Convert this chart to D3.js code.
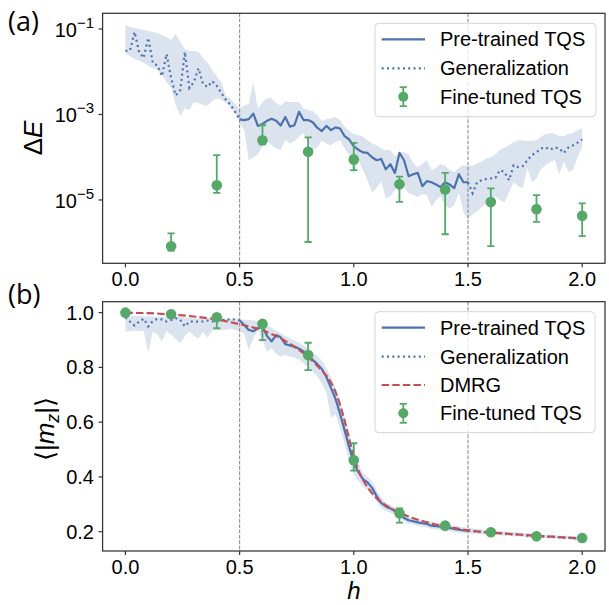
<!DOCTYPE html>
<html><head><meta charset="utf-8">
<script src="https://cdn.jsdelivr.net/npm/d3@7"></script>
<style>
body{margin:0;background:#fff}
text{font-family:"Liberation Sans",Arial,sans-serif;fill:#000}
</style>
</head><body>
<svg id="c" width="609" height="605"></svg>
<script>
// ---------- DATA ----------
const hGrid = [0,0.02,0.04,0.06,0.08,0.1,0.12,0.14,0.16,0.18,
0.2,0.22,0.24,0.26,0.28,0.3,0.32,0.34,0.36,0.38,
0.4,0.42,0.44,0.46,0.48,0.5,0.52,0.54,0.56,0.58,
0.6,0.62,0.64,0.66,0.68,0.7,0.72,0.74,0.76,0.78,
0.8,0.82,0.84,0.86,0.88,0.9,0.92,0.94,0.96,0.98,
1.0,1.02,1.04,1.06,1.08,1.1,1.12,1.14,1.16,1.18,
1.2,1.22,1.24,1.26,1.28,1.3,1.32,1.34,1.36,1.38,
1.4,1.42,1.44,1.46,1.48,1.5,1.52,1.54,1.56,1.58,
1.6,1.62,1.64,1.66,1.68,1.7,1.72,1.74,1.76,1.78,
1.8,1.82,1.84,1.86,1.88,1.9,1.92,1.94,1.96,1.98,2.0];

// (a) Delta E of pre-trained TQS (mean) and its spread
const dEMean = [3.1e-2,3.1e-2,8.5e-2,2.9e-2,2.1e-2,6.2e-2,1.6e-2,1.4e-2,7.9e-3,2.6e-2,
7.1e-3,2.8e-3,3.7e-3,2.9e-2,4.2e-3,5.8e-3,1.2e-2,5.1e-3,4.4e-3,6.0e-3,
4.7e-3,3.2e-3,2.2e-3,1.7e-3,1.15e-3,7.7e-4,7.4e-4,7.8e-4,1.05e-3,5.4e-4,
6.0e-4,7.1e-4,7.9e-4,7.1e-4,5.5e-4,8.7e-4,5.2e-4,5.6e-4,1.15e-3,7.4e-4,
7.4e-4,6.6e-4,4.9e-4,4.1e-4,5.4e-4,4.3e-4,5.0e-4,4.7e-4,3.1e-4,2.6e-4,
1.8e-4,1.5e-4,1.3e-4,1.26e-4,1.0e-4,8.5e-5,9.1e-5,5.2e-5,6.9e-5,4.3e-5,
1.26e-4,8.5e-5,3.6e-5,4.0e-5,4.3e-5,2.1e-5,2.75e-5,2.6e-5,2.3e-5,2.0e-5,
2.6e-5,2.3e-5,1.9e-5,4.0e-5,2.6e-5,2.6e-5,1.45e-5,2.6e-5,2.9e-5,3.1e-5,
3.2e-5,3.3e-5,5.0e-5,4.5e-5,2.9e-5,6.5e-5,5.9e-5,6.2e-5,8.5e-5,1.12e-4,
1.3e-4,1.6e-4,1.7e-4,1.5e-4,1.7e-4,1.6e-4,1.26e-4,1.7e-4,1.9e-4,2.2e-4,2.6e-4];
const dEUpper = [1.24e-1,1.11e-1,1.05e-1,1.0e-1,9.5e-2,9.0e-2,8.5e-2,8.1e-2,7.2e-2,6.5e-2,
5.5e-2,7.6e-2,5.0e-2,3.4e-2,3.05e-2,3.05e-2,2.9e-2,2.1e-2,1.6e-2,1.1e-2,
7.9e-3,5.7e-3,2.8e-3,2.3e-3,1.75e-3,1.4e-3,1.6e-3,1.75e-3,5.7e-3,1.4e-3,
1.95e-3,2.4e-3,2.4e-3,1.85e-3,1.6e-3,2.06e-3,1.95e-3,1.95e-3,1.95e-3,1.4e-3,
1.27e-3,1.2e-3,9.7e-4,7.0e-4,7.8e-4,8.2e-4,8.7e-4,7.4e-4,5.1e-4,4.1e-4,
3.5e-4,3.3e-4,3.0e-4,2.5e-4,2.1e-4,1.9e-4,1.6e-4,1.47e-4,1.47e-4,1.06e-4,
1.3e-4,1.3e-4,1.18e-4,7.3e-5,5.9e-5,6.9e-5,8.6e-5,5.0e-5,5.6e-5,6.9e-5,
6.2e-5,5.0e-5,4.5e-5,5.6e-5,6.5e-5,6.2e-5,6.2e-5,7.3e-5,7.7e-5,9.5e-5,
1.0e-4,1.18e-4,1.47e-4,1.7e-4,1.9e-4,2.26e-4,2.5e-4,2.5e-4,2.4e-4,2.4e-4,
2.5e-4,3.0e-4,3.5e-4,3.7e-4,3.5e-4,3.1e-4,3.1e-4,3.5e-4,3.7e-4,4.3e-4,4.8e-4];
const dELower = [2.7e-2,2.3e-2,2.0e-2,1.8e-2,1.6e-2,1.36e-2,1.22e-2,1.1e-2,8.4e-3,5.7e-3,
4.15e-3,1.66e-3,9.2e-4,1.4e-3,1.27e-3,1.95e-3,1.85e-3,1.66e-3,1.6e-3,2.06e-3,
2.4e-3,2.2e-3,1.85e-3,1.5e-3,1.08e-3,6.5e-4,4.3e-4,8.6e-5,1.0e-4,1.18e-4,
1.8e-4,2.4e-4,1.9e-4,1.6e-4,1.47e-4,2.65e-4,2.1e-4,2.4e-4,3.0e-4,3.7e-4,
2.26e-4,1.47e-4,1.7e-4,2.5e-4,2.1e-4,1.9e-4,2.26e-4,2.5e-4,1.6e-4,1.12e-4,
3.8e-5,8.6e-5,5.0e-5,2.9e-5,1.5e-5,1.9e-5,2.75e-5,1.1e-5,1.23e-5,1.7e-5,
2.9e-5,2.1e-5,1.44e-5,1.3e-5,1.16e-5,1.37e-5,1.3e-5,6.8e-6,9.9e-6,1.23e-5,
7.2e-6,6.4e-6,7.6e-6,1.5e-5,5.2e-6,3.55e-6,4.6e-6,5.5e-6,6.8e-6,8.0e-6,
9.9e-6,1.23e-5,9.9e-6,8.9e-6,1.5e-5,2.6e-5,2.1e-5,1.9e-5,5.6e-5,2.6e-5,
3.2e-5,5.3e-5,6.5e-5,7.7e-5,8.6e-5,4.0e-5,7.7e-5,4.5e-5,5.0e-5,1.0e-4,1.7e-4];

// (a) fine-tuned TQS points with error bars
const ftTopH  = [0.2,0.4,0.6,0.8,1.0,1.2,1.4,1.6,1.8,2.0];
const ftTopE  = [8.3e-7,2.2e-5,2.5e-4,1.34e-4,8.9e-5,2.34e-5,1.76e-5,9.0e-6,6.1e-6,4.25e-6];
const ftTopLo = [6.5e-7,1.47e-5,2.0e-4,1.04e-6,5.0e-5,9.0e-6,1.58e-6,8.3e-7,3.07e-6,1.42e-6];
const ftTopHi = [1.66e-6,1.12e-4,5.6e-4,2.9e-4,2.17e-4,3.5e-5,4.3e-5,1.86e-5,1.3e-5,8.3e-6];

// (b) <|m_z|> of pre-trained TQS (mean) and its spread
const mzMean = [0.983,0.967,0.953,0.967,0.978,0.950,0.970,0.977,0.975,0.968,
0.973,0.980,0.974,0.950,0.967,0.968,0.967,0.968,0.971,0.968,
0.970,0.972,0.974,0.976,0.975,0.972,0.955,0.937,0.932,0.943,
0.949,0.915,0.895,0.918,0.910,0.885,0.880,0.876,0.868,0.858,
0.842,0.828,0.812,0.794,0.765,0.725,0.685,0.630,0.570,0.508,
0.452,0.418,0.392,0.380,0.360,0.330,0.305,0.292,0.285,0.275,
0.265,0.250,0.242,0.238,0.234,0.231,0.228,0.222,0.220,0.218,
0.218,0.214,0.210,0.207,0.205,0.204,0.203,0.200,0.199,0.197,
0.196,0.195,0.195,0.193,0.191,0.190,0.190,0.188,0.186,0.186,
0.184,0.183,0.182,0.181,0.181,0.180,0.179,0.178,0.177,0.176,0.175];
const mzUpper = [0.990,0.989,0.988,0.988,0.987,0.986,0.986,0.985,0.985,0.984,
0.984,0.985,0.984,0.982,0.982,0.981,0.980,0.980,0.980,0.979,
0.979,0.979,0.978,0.978,0.977,0.976,0.974,0.973,0.972,0.968,
0.962,0.955,0.945,0.935,0.925,0.915,0.905,0.898,0.890,0.880,
0.868,0.855,0.842,0.824,0.798,0.765,0.725,0.675,0.620,0.558,
0.497,0.450,0.415,0.400,0.382,0.352,0.325,0.308,0.298,0.288,
0.278,0.263,0.255,0.250,0.246,0.244,0.240,0.236,0.233,0.232,
0.231,0.227,0.222,0.219,0.216,0.214,0.213,0.210,0.208,0.206,
0.205,0.204,0.203,0.201,0.199,0.198,0.197,0.196,0.194,0.193,
0.191,0.190,0.189,0.188,0.187,0.186,0.185,0.184,0.183,0.182,0.181];
const mzLower = [0.931,0.932,0.935,0.931,0.935,0.852,0.931,0.920,0.894,0.931,
0.920,0.905,0.888,0.915,0.931,0.915,0.906,0.931,0.908,0.935,
0.937,0.937,0.937,0.940,0.938,0.932,0.925,0.864,0.905,0.936,
0.900,0.858,0.870,0.850,0.839,0.845,0.840,0.835,0.828,0.815,
0.800,0.785,0.768,0.740,0.708,0.615,0.630,0.578,0.520,0.458,
0.410,0.385,0.365,0.352,0.337,0.310,0.287,0.276,0.270,0.262,
0.252,0.238,0.230,0.226,0.222,0.219,0.216,0.210,0.208,0.206,
0.206,0.203,0.199,0.196,0.195,0.194,0.193,0.191,0.190,0.189,
0.188,0.187,0.187,0.185,0.184,0.183,0.183,0.181,0.179,0.179,
0.178,0.177,0.176,0.175,0.175,0.174,0.173,0.172,0.171,0.170,0.169];

// (b) DMRG reference
const dmrgH = [0,0.05,0.1,0.15,0.2,0.25,0.3,0.35,0.4,0.45,0.5,0.55,0.6,0.65,0.7,0.75,0.8,0.85,0.9,0.925,
0.95,0.975,1.0,1.025,1.05,1.1,1.15,1.2,1.25,1.3,1.35,1.4,1.45,1.5,1.6,1.7,1.8,1.9,2.0];
const dmrgMz = [1.000,0.999,0.998,0.996,0.993,0.990,0.986,0.981,0.975,0.967,0.958,0.948,0.936,0.918,0.897,0.870,0.838,0.797,0.745,0.700,
0.635,0.555,0.475,0.415,0.376,0.322,0.291,0.270,0.252,0.239,0.228,0.219,0.212,0.205,0.197,0.191,0.185,0.180,0.175];

// (b) fine-tuned TQS points
const ftBotH  = [0,0.2,0.4,0.6,0.8,1.0,1.2,1.4,1.6,1.8,2.0];
const ftBotM  = [1.000,0.994,0.983,0.959,0.845,0.461,0.267,0.222,0.198,0.183,0.177];
const ftBotLo = [1.000,0.990,0.943,0.900,0.790,0.423,0.233,0.218,0.196,0.181,0.175];
const ftBotHi = [1.000,0.998,0.990,0.966,0.890,0.523,0.285,0.226,0.200,0.185,0.179];

const xTicks = [0,0.5,1.0,1.5,2.0];
const xTickLabels = ["0.0","0.5","1.0","1.5","2.0"];
const topYTicks = [1e-1,1e-3,1e-5];
const topYExp = ["−1","−3","−5"];
const botYTicks = [0.2,0.4,0.6,0.8,1.0];
const botYTickLabels = ["0.2","0.4","0.6","0.8","1.0"];
const vLines = [0.5,1.5];
const legendTop = ["Pre-trained TQS","Generalization","Fine-tuned TQS"];
const legendBot = ["Pre-trained TQS","Generalization","DMRG","Fine-tuned TQS"];

// ---------- STYLE ----------
const BLUE="#4c72b0", GREEN="#55a868", RED="#c44e52", SPINE="#333";
const FS_TICK=20, FS_LEG=20;

const svg = d3.select("#c");
const L=102.6, R=605;
const x = d3.scaleLinear().domain([-0.1,2.1]).range([L,R]);
const P1 = {t:13.3, b:263.3}, P2 = {t:301.7, b:551};
const yTop = d3.scaleLog().domain([3.3e-7,0.233]).range([P1.b,P1.t]);
const yBot = d3.scaleLinear().domain([0.1295,1.040]).range([P2.b,P2.t]);

const defs = svg.append("defs");
[["clipA",P1],["clipB",P2]].forEach(([id,p])=>{
  defs.append("clipPath").attr("id",id).append("rect")
    .attr("x",L).attr("y",p.t).attr("width",R-L).attr("height",p.b-p.t);
});

const idx = hGrid.map((h,i)=>i);
const isPre = i => hGrid[i] >= 0.5-1e-9 && hGrid[i] <= 1.5+1e-9;
const isGen = i => hGrid[i] <= 0.5+1e-9 || hGrid[i] >= 1.5-1e-9;

function panel(P, y, clip, mean, lo, hi){
  const g = svg.append("g").attr("clip-path",`url(#${clip})`);
  g.append("path").datum(idx)
    .attr("d", d3.area().x(i=>x(hGrid[i])).y0(i=>y(lo[i])).y1(i=>y(hi[i])))
    .attr("fill",BLUE).attr("fill-opacity",0.2).attr("stroke","none");
  vLines.forEach(v=>{
    g.append("line").attr("x1",x(v)).attr("x2",x(v)).attr("y1",P.t).attr("y2",P.b)
      .attr("stroke","#8f8f8f").attr("stroke-width",1.1).attr("stroke-dasharray","3.7,1.6");
  });
  g.append("path").datum(idx)
    .attr("d", d3.line().defined(isPre).x(i=>x(hGrid[i])).y(i=>y(mean[i])))
    .attr("fill","none").attr("stroke",BLUE).attr("stroke-width",2.2).attr("stroke-linejoin","round");
  g.append("path").datum(idx)
    .attr("d", d3.line().defined(isGen).x(i=>x(hGrid[i])).y(i=>y(mean[i])))
    .attr("fill","none").attr("stroke",BLUE).attr("stroke-width",2.2).attr("stroke-dasharray","2,3.3");
  return g;
}

function errorbars(g, hs, vals, los, his, y){
  hs.forEach((h,i)=>{
    const cx=x(h);
    g.append("line").attr("x1",cx).attr("x2",cx).attr("y1",y(los[i])).attr("y2",y(his[i]))
      .attr("stroke",GREEN).attr("stroke-width",1.8);
    [los[i],his[i]].forEach(v=>{
      g.append("line").attr("x1",cx-3.6).attr("x2",cx+3.6).attr("y1",y(v)).attr("y2",y(v))
        .attr("stroke",GREEN).attr("stroke-width",1.8);
    });
    g.append("circle").attr("cx",cx).attr("cy",y(vals[i])).attr("r",5.3).attr("fill",GREEN);
  });
}

function frame(P){
  svg.append("rect").attr("x",L).attr("y",P.t).attr("width",R-L).attr("height",P.b-P.t)
    .attr("fill","none").attr("stroke",SPINE).attr("stroke-width",1.25);
  xTicks.forEach((t,i)=>{
    svg.append("line").attr("x1",x(t)).attr("x2",x(t)).attr("y1",P.b).attr("y2",P.b+4)
      .attr("stroke",SPINE).attr("stroke-width",1.2);
    svg.append("text").attr("x",x(t)).attr("y",P.b+22.5).attr("text-anchor","middle")
      .attr("font-size",FS_TICK).text(xTickLabels[i]);
  });
}

function legend(bx, by, bw, bh, rows){
  const g = svg.append("g");
  g.append("rect").attr("x",bx).attr("y",by).attr("width",bw).attr("height",bh).attr("rx",4)
    .attr("fill","#fff").attr("fill-opacity",0.8).attr("stroke","#d6d6d6").attr("stroke-width",1);
  rows.forEach(r=>{
    if(r.type==="line"){
      g.append("line").attr("x1",381.7).attr("x2",425).attr("y1",r.y).attr("y2",r.y)
        .attr("stroke",r.color).attr("stroke-width",2.2).attr("stroke-dasharray",r.dash||null);
    } else {
      const cx=403.3;
      g.append("line").attr("x1",cx).attr("x2",cx).attr("y1",r.y-9.5).attr("y2",r.y+9.5).attr("stroke",GREEN).attr("stroke-width",1.8);
      [r.y-9.5,r.y+9.5].forEach(v=>g.append("line").attr("x1",cx-3.6).attr("x2",cx+3.6).attr("y1",v).attr("y2",v).attr("stroke",GREEN).attr("stroke-width",1.8));
      g.append("circle").attr("cx",cx).attr("cy",r.y).attr("r",5).attr("fill",GREEN);
    }
    g.append("text").attr("x",440).attr("y",r.y+7).attr("font-size",FS_LEG).text(r.label);
  });
}

// ---- Panel (a) ----
const gA = panel(P1, yTop, "clipA", dEMean, dELower, dEUpper);
errorbars(gA, ftTopH, ftTopE, ftTopLo, ftTopHi, yTop);
frame(P1);
topYTicks.forEach((t,i)=>{
  const yy=yTop(t);
  svg.append("line").attr("x1",L-4).attr("x2",L).attr("y1",yy).attr("y2",yy).attr("stroke",SPINE).attr("stroke-width",1.2);
  const tx = svg.append("text").attr("x",94).attr("y",yy+8).attr("text-anchor","end").attr("font-size",FS_TICK);
  tx.append("tspan").text("10");
  tx.append("tspan").attr("dy",-9).attr("font-size",15).text(topYExp[i]);
});
legend(375,23.3,221,93.4,[
  {type:"line",y:39.3,color:BLUE,label:legendTop[0]},
  {type:"line",y:68.3,color:BLUE,dash:"2,3.3",label:legendTop[1]},
  {type:"err",y:96.7,label:legendTop[2]}
]);

// ---- Panel (b) ----
const gB = panel(P2, yBot, "clipB", mzMean, mzLower, mzUpper);
gB.append("path").datum(dmrgH.map((h,i)=>i))
  .attr("d", d3.line().x(i=>x(dmrgH[i])).y(i=>yBot(dmrgMz[i])).curve(d3.curveMonotoneX))
  .attr("fill","none").attr("stroke",RED).attr("stroke-width",2.2).attr("stroke-dasharray","7.4,3.2");
errorbars(gB, ftBotH, ftBotM, ftBotLo, ftBotHi, yBot);
frame(P2);
botYTicks.forEach((t,i)=>{
  const yy=yBot(t);
  svg.append("line").attr("x1",L-4).attr("x2",L).attr("y1",yy).attr("y2",yy).attr("stroke",SPINE).attr("stroke-width",1.2);
  svg.append("text").attr("x",94).attr("y",yy+7).attr("text-anchor","end").attr("font-size",FS_TICK).text(botYTickLabels[i]);
});
legend(375,311.7,220,121,[
  {type:"line",y:327.7,color:BLUE,label:legendBot[0]},
  {type:"line",y:356.7,color:BLUE,dash:"2,3.3",label:legendBot[1]},
  {type:"line",y:385,color:RED,dash:"7.4,3.2",label:legendBot[2]},
  {type:"err",y:413.3,label:legendBot[3]}
]);

// ---- Labels ----
svg.append("text").attr("x",8).attr("y",31).attr("font-size",27).style("font-family","'Open Sans', Lato, sans-serif").text("(a)");
svg.append("text").attr("x",8).attr("y",304).attr("font-size",27).style("font-family","'Open Sans', Lato, sans-serif").text("(b)");
const yl1 = svg.append("text").attr("transform","translate(42,138) rotate(-90)").attr("text-anchor","middle").attr("font-size",26);
yl1.append("tspan").text("Δ");
yl1.append("tspan").attr("font-style","italic").text("E");
const yl2 = svg.append("text").attr("transform","translate(54,429) rotate(-90)").attr("text-anchor","middle").attr("font-size",26);
yl2.append("tspan").text("⟨|");
yl2.append("tspan").attr("font-style","italic").text("m");
yl2.append("tspan").attr("font-style","italic").attr("font-size",18).attr("dy",5).text("z");
yl2.append("tspan").attr("dy",-5).text("|⟩");
svg.append("text").attr("x",354).attr("y",599).attr("text-anchor","middle").attr("font-size",24).attr("font-style","italic").text("h");
</script>
</body></html>
